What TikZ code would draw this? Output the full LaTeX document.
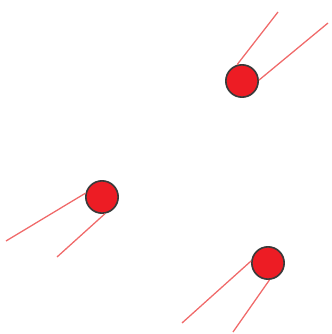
\documentclass[tikz,border=0pt]{standalone}
\usepackage{tikz}
\definecolor{ballred}{HTML}{ED1C24}
\definecolor{rim}{HTML}{3A3A3A}
\definecolor{tailred}{HTML}{F06A6A}

\begin{document}
\begin{tikzpicture}[x=0.03cm,y=-0.03cm,
    ball/.style={circle,draw=rim,fill=ballred,line width=1.4pt,minimum size=0.97cm,inner sep=0pt},
    tail/.style={tailred,line width=1.1pt}]
  \useasboundingbox (0,0) rectangle (331,334);
  % the three balls
  \node[ball] (b1) at (242,81) {};
  \node[ball] (b2) at (102,197) {};
  \node[ball] (b3) at (268,263) {};
  % free ends of the tails
  \coordinate (t1a) at (278,12);
  \coordinate (t1b) at (328,23);
  \coordinate (t2a) at (6,241);
  \coordinate (t2b) at (57,257);
  \coordinate (t3a) at (182,323);
  \coordinate (t3b) at (233,332);
  \draw[tail] (b1.107) -- (t1a);
  \draw[tail] (b1.3) -- (t1b);
  \draw[tail] (b2.167) -- (t2a);
  \draw[tail] (b2.280) -- (t2b);
  \draw[tail] (b3.173) -- (t3a);
  \draw[tail] (b3.275) -- (t3b);
\end{tikzpicture}
\end{document}
